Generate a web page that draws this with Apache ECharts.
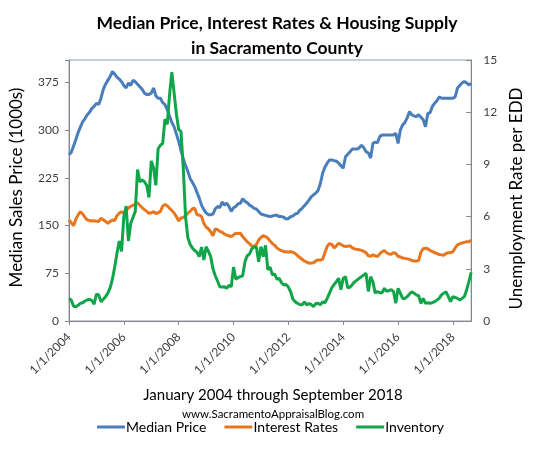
<!DOCTYPE html>
<html>
<head>
<meta charset="utf-8">
<script src="https://cdn.jsdelivr.net/npm/echarts@6/dist/echarts.min.js"></script>
<style>
html,body{margin:0;padding:0;background:#fff;}
#chart{width:533px;height:450px;}
</style>
</head>
<body>
<div id="chart"></div>
<script>
// Monthly categories, Jan 2004 .. Sep 2018 (M/1/YYYY)
const startYear = 2004, endYear = 2018, endMonth = 9;
const categories = [];
for (let y = startYear; y <= endYear; y++) {
  for (let m = 1; m <= 12; m++) {
    if (y === endYear && m > endMonth) break;
    categories.push(m + '/1/' + y);
  }
}
const xTickLabels = ['1/1/2004','1/1/2006','1/1/2008','1/1/2010','1/1/2012','1/1/2014','1/1/2016','1/1/2018'];
const leftTicks = [0, 75, 150, 225, 300, 375];
const rightTicks = [0, 3, 6, 9, 12, 15];

// Median price (1000s) — left axis
const medianPrice = [
261,265,275,285,296,305,313,318,324,328,334,337,
342,340,350,364,372,378,384,392,388,383,380,376,
370,366,374,370,378,376,372,368,364,358,356,356,
358,366,354,350,350,343,340,332,322,312,305,294,
282,268,255,244,235,224,218,211,202,193,182,175,
170,167,167,168,176,180,178,187,182,185,180,172,
178,180,184,185,192,188,186,182,180,177,176,172,
168,167,166,165,164,165,166,166,164,164,163,160,
161,164,165,168,169,174,177,181,185,190,195,198,
201,205,216,232,242,248,253,253,252,251,248,244,
240,258,262,266,270,270,270,272,276,272,266,264,
256,279,281,280,290,292,292,292,292,292,292,295,
279,300,308,312,319,329,324,322,321,324,320,316,
305,326,327,337,342,346,352,350,350,350,350,350,
350,352,366,370,374,376,374,371,373
];

// 30-yr interest rate (%) — right axis
const interestRates = [
5.80,5.65,5.48,5.85,6.10,6.28,6.15,5.95,5.80,5.78,5.75,5.76,
5.74,5.72,5.90,5.82,5.72,5.61,5.72,5.80,5.78,6.05,6.20,6.28,
6.20,6.35,6.50,6.58,6.65,6.72,6.80,6.65,6.52,6.40,6.30,6.19,
6.22,6.28,6.18,6.22,6.30,6.60,6.70,6.62,6.48,6.35,6.20,6.00,
5.75,5.92,5.95,6.05,6.20,6.30,6.45,6.48,6.10,6.09,6.00,5.61,
5.40,5.30,5.13,4.90,5.30,5.25,5.15,5.10,5.00,4.94,4.90,4.85,
4.95,5.05,5.02,5.05,4.85,4.70,4.55,4.45,4.32,4.27,4.40,4.65,
4.80,4.90,4.85,4.76,4.60,4.45,4.35,4.20,4.10,4.05,3.98,3.98,
3.96,3.98,3.95,3.88,3.75,3.65,3.55,3.45,3.38,3.32,3.33,3.35,
3.45,3.51,3.50,3.55,3.93,4.29,4.45,4.40,4.20,4.32,4.46,4.40,
4.32,4.28,4.30,4.32,4.20,4.14,4.12,4.10,4.06,4.00,3.92,3.75,
3.72,3.80,3.75,3.70,3.86,3.98,4.05,3.92,3.85,3.84,3.93,3.88,
3.72,3.68,3.62,3.60,3.57,3.54,3.48,3.45,3.45,3.47,3.95,4.15,
4.18,4.15,4.05,4.00,3.92,3.88,3.82,3.80,3.78,3.88,3.92,3.94,
3.98,4.20,4.38,4.44,4.48,4.52,4.56,4.55,4.65
];

// Inventory (months of supply) — right axis
const inventory = [
1.30,1.20,0.85,0.82,0.90,1.02,1.05,1.15,1.21,1.25,1.18,0.96,
1.55,1.50,1.10,1.25,1.40,1.60,1.90,2.40,3.10,3.90,4.60,4.00,
6.00,6.60,4.60,5.60,5.95,6.30,8.70,8.00,8.10,8.00,7.80,7.10,
9.20,8.80,7.80,9.90,10.10,10.20,11.60,11.30,13.00,14.30,13.10,11.90,
11.00,10.90,8.80,6.00,4.80,4.40,4.20,4.05,3.95,3.70,4.25,3.50,
4.27,4.00,3.70,3.00,2.60,2.30,1.97,1.95,1.97,1.88,2.05,1.97,
3.10,2.40,2.50,2.55,2.60,3.40,3.75,3.85,4.15,4.25,4.25,3.40,
4.27,3.70,4.35,2.95,3.10,2.65,2.70,2.40,2.45,2.20,2.07,2.10,
1.95,1.68,1.25,1.10,1.02,0.95,0.93,1.10,0.93,1.00,0.95,0.82,
1.00,1.02,0.93,1.10,1.05,1.30,1.60,1.90,2.10,2.26,2.45,1.80,
2.45,2.55,1.90,1.95,2.10,2.25,2.35,2.45,2.55,2.65,2.74,1.70,
2.55,2.25,1.60,1.70,1.62,1.62,1.88,1.70,1.75,1.80,1.70,1.02,
1.88,1.60,1.30,1.30,1.40,1.55,1.68,1.60,1.50,1.45,1.02,1.30,
1.02,1.05,1.02,1.05,1.11,1.20,1.30,1.50,1.60,1.68,1.40,1.11,
1.40,1.35,1.30,1.21,1.30,1.40,1.78,2.26,2.80
];

const FONT = 'Lato, "Open Sans", sans-serif';
const chart = echarts.init(document.getElementById('chart'), null, {renderer: 'canvas'});
const showIdx = (i) => xTickLabels.indexOf(categories[i]) >= 0;

chart.setOption({
  animation: false,
  backgroundColor: '#ffffff',
  textStyle: {fontFamily: FONT},
  title: [
    {
      text: 'Median Price, Interest Rates & Housing Supply\nin Sacramento County',
      left: 272, top: 6, textAlign: 'center',
      textStyle: {fontFamily: FONT, fontSize: 17.5, fontWeight: 'bold', color: '#000000', lineHeight: 25}
    },
    {
      text: 'January 2004 through September 2018',
      left: 268, top: 383, textAlign: 'center',
      textStyle: {fontFamily: FONT, fontSize: 15, fontWeight: 'normal', color: '#000000'}
    },
    {
      text: 'www.SacramentoAppraisalBlog.com',
      left: 268, top: 403, textAlign: 'center',
      textStyle: {fontFamily: FONT, fontSize: 11.5, fontWeight: 'normal', color: '#000000'}
    }
  ],
  legend: {
    data: ['Median Price', 'Interest Rates', 'Inventory'],
    left: 97, top: 420, padding: 0,
    itemWidth: 28, itemHeight: 3, itemGap: 18,
    icon: 'rect',
    textStyle: {fontFamily: FONT, fontSize: 14, color: '#000000', padding: [0, 0, 0, -4]}
  },
  grid: {
    left: 62, right: 59, top: 60, bottom: 129,
    show: true, borderColor: '#8c9cb4', borderWidth: 1, containLabel: false
  },
  xAxis: {
    type: 'category',
    data: categories,
    boundaryGap: false,
    axisLine: {lineStyle: {color: '#868686', width: 1}},
    axisTick: {show: true, interval: (i) => showIdx(i), length: 4, lineStyle: {color: '#868686'}},
    axisLabel: {
      interval: (i) => showIdx(i),
      rotate: 45, margin: 14,
      fontFamily: FONT, fontSize: 12, color: '#404040'
    },
    splitLine: {show: false}
  },
  yAxis: [
    {
      type: 'value', min: 0, max: 410, interval: 75, position: 'left',
      name: 'Median Sales Price (1000s)', nameLocation: 'middle', nameGap: 44, nameRotate: 90,
      nameTextStyle: {fontFamily: FONT, fontSize: 17, color: '#000000', padding: [0, 0, 0, 6]},
      axisLine: {show: true, lineStyle: {color: '#868686'}},
      axisTick: {show: true, length: 4, lineStyle: {color: '#868686'}},
      axisLabel: {
        margin: 10, fontFamily: FONT, fontSize: 12, color: '#404040',
        formatter: (v) => leftTicks.indexOf(v) >= 0 ? String(v) : ''
      },
      splitLine: {show: false}
    },
    {
      type: 'value', min: 0, max: 15, interval: 3, position: 'right',
      name: 'Unemployment Rate per EDD', nameLocation: 'middle', nameGap: 36, nameRotate: 90,
      nameTextStyle: {fontFamily: FONT, fontSize: 17, color: '#000000', padding: [0, 16, 0, 0]},
      axisLine: {show: true, lineStyle: {color: '#868686'}},
      axisTick: {show: true, inside: true, length: 5, lineStyle: {color: '#868686'}},
      axisLabel: {
        margin: 12, fontFamily: FONT, fontSize: 12, color: '#404040',
        formatter: (v) => rightTicks.indexOf(v) >= 0 ? String(v) : ''
      },
      splitLine: {show: false}
    }
  ],
  series: [
    {
      name: 'Median Price', type: 'line', yAxisIndex: 0, data: medianPrice,
      symbol: 'none', smooth: false, color: '#4a7ebb',
      lineStyle: {width: 3, color: '#4a7ebb'}, z: 3
    },
    {
      name: 'Interest Rates', type: 'line', yAxisIndex: 1, data: interestRates,
      symbol: 'none', smooth: false, color: '#e8761e',
      lineStyle: {width: 3, color: '#e8761e'}, z: 2
    },
    {
      name: 'Inventory', type: 'line', yAxisIndex: 1, data: inventory,
      symbol: 'none', smooth: false, color: '#10a549',
      lineStyle: {width: 3, color: '#10a549'}, z: 4
    }
  ]
});
</script>
</body>
</html>
